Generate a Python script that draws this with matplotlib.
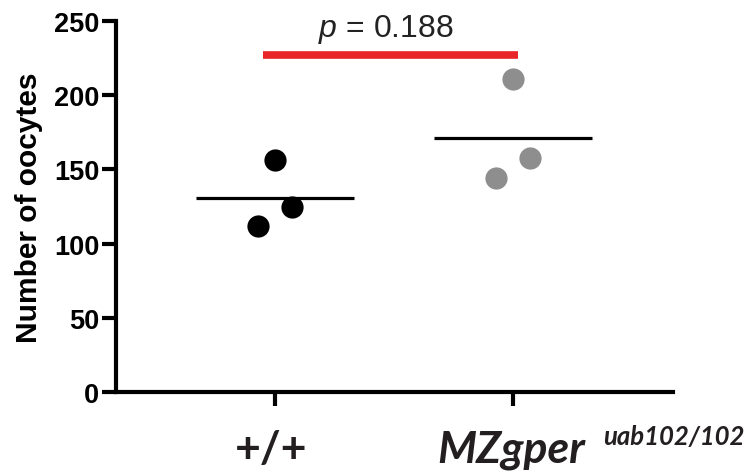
import matplotlib
matplotlib.use("Agg")
import matplotlib.pyplot as plt
import matplotlib.transforms as mtransforms
import numpy as np

plt.rcParams["font.family"] = ["Liberation Sans", "DejaVu Sans"]
plt.rcParams["mathtext.fontset"] = "custom"
plt.rcParams["mathtext.it"] = "Liberation Sans:italic"
plt.rcParams["mathtext.rm"] = "Liberation Sans"

# Data
groups = ["+/+", "MZgper"]
wt_x = [1.0, 1.07, 0.93]
wt_vals = [156, 125, 112]
mz_x = [2.0, 2.07, 1.93]
mz_vals = [211, 158, 144]
p_text = "$p$ = 0.188"
bar_y = 227
bar_x = [0.95, 2.02]

fig = plt.figure(figsize=(7.5, 4.77), dpi=100)
ax = fig.add_axes([116 / 750, 1 - 393 / 477, (673 - 116) / 750, (393 - 22) / 477])

ax.scatter(wt_x, wt_vals, s=16 ** 2, color="black", zorder=3, linewidths=0)
ax.scatter(mz_x, mz_vals, s=16 ** 2, color="#8e8e8e", zorder=3, linewidths=0)

# mean lines
for pos, vals in [(1, wt_vals), (2, mz_vals)]:
    ax.hlines(np.mean(vals), pos - 0.33, pos + 0.33, color="black", lw=2.3, zorder=2)

# significance bar
ax.hlines(bar_y, bar_x[0], bar_x[1], color="#e8262a", lw=5.5, zorder=2)
ax.text(np.mean(bar_x) - 0.02, bar_y + 7, p_text, ha="center", va="bottom",
        fontsize=23, color="#222222")

ax.set_xlim(0.332, 2.672)
ax.set_ylim(0, 250)
ax.set_yticks([0, 50, 100, 150, 200, 250])
ax.set_xticks([1, 2])
ax.set_xticklabels(["", ""])
ax.tick_params(axis="both", width=3, length=10, direction="out", color="black")
ax.tick_params(axis="y", labelsize=19.5, pad=2)
for lab in ax.get_yticklabels():
    lab.set_fontweight("bold")

for side in ["top", "right"]:
    ax.spines[side].set_visible(False)
for side in ["left", "bottom"]:
    ax.spines[side].set_linewidth(3)
    ax.spines[side].set_capstyle("projecting")

ax.set_ylabel("Number of oocytes", fontsize=21.5, fontweight="bold", labelpad=8)

# x group labels
txt_col = "#231f20"
trans = mtransforms.blended_transform_factory(ax.transData, fig.transFigure)
ax.text(0.983, 1 - 463 / 477, groups[0], transform=trans, ha="center", va="baseline",
        fontsize=32, fontweight="bold", family="Lato", color=txt_col, clip_on=False)
ax.text(1.681, 1 - 463 / 477, groups[1], transform=trans, ha="left", va="baseline",
        fontsize=32, fontweight="bold", fontstyle="italic", family="Lato",
        color=txt_col, clip_on=False)
ax.text(2.378, 1 - 445 / 477, "uab102/102", transform=trans, ha="left", va="baseline",
        fontsize=18.5, fontweight="bold", fontstyle="italic", family="Lato",
        color=txt_col, clip_on=False)

fig.savefig("out.png", dpi=100, facecolor="white")
